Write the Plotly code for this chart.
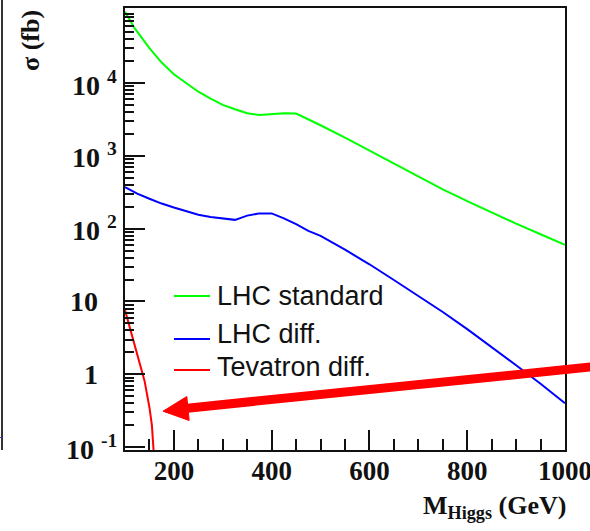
import math
import plotly.graph_objects as go

# Higgs mass grid (GeV) and cross sections (fb)
mass_lhc = [100, 120, 150, 175, 200, 225, 250, 275, 300, 325, 350, 375, 400,
            425, 450, 475, 500, 550, 600, 650, 700, 750, 800, 850, 900, 950, 1000]
sigma_lhc_standard = [95500, 56200, 30200, 19100, 13200, 10000, 7590, 6100, 5010,
                      4370, 3850, 3630, 3760, 3850, 3800, 3200, 2630, 1780, 1190,
                      782, 520, 346, 238, 166, 117, 83.8, 59.7]

mass_lhc_diff = [100, 125, 150, 175, 200, 225, 250, 275, 300, 325, 340, 350, 375,
                 400, 425, 450, 475, 500, 550, 600, 650, 700, 750, 800, 850, 900,
                 950, 1000]
sigma_lhc_diff = [371, 302, 257, 221, 195, 174, 155, 145, 138, 132, 143, 151, 162,
                  162, 138, 115, 93.3, 79.4, 51.3, 32.4, 19.7, 11.9, 7.16, 4.17,
                  2.37, 1.33, 0.74, 0.40]

mass_tev = [100, 110, 120, 130, 140, 150, 155, 160]
sigma_tev_diff = [7.6, 4.4, 2.5, 1.45, 0.81, 0.35, 0.2, 0.063]

series_names = ["LHC standard", "LHC diff.", "Tevatron diff."]
series_colors = ["#00ff00", "#0000ff", "#ff0000"]

x_ticks = [200, 400, 600, 800, 1000]
x_minor = [150, 250, 300, 350, 450, 500, 550, 650, 700, 750, 850, 900, 950]
y_ticks = [0.1, 1, 10, 100, 1000, 10000]
y_tick_text = ["10 <sup>-1</sup>", "1", "10", "10 <sup>2</sup>", "10 <sup>3</sup>",
               "10 <sup>4</sup>"]
y_minor = [m * 10 ** e for e in range(-1, 5) for m in range(2, 10)]

W, H = 590, 531
L, R, T, B = 125, 25, 8, 81
PW, PH = W - L - R, H - T - B


def px(x):
    return (x - L) / PW


def py(y):
    return (H - B - y) / PH


SERIF = "Liberation Serif"
INK = "#111"

fig = go.Figure()
for xs, ys, c in [(mass_lhc, sigma_lhc_standard, series_colors[0]),
                  (mass_lhc_diff, sigma_lhc_diff, series_colors[1]),
                  (mass_tev, sigma_tev_diff, series_colors[2])]:
    fig.add_trace(go.Scatter(x=xs, y=ys, mode="lines",
                             line=dict(color=c, width=2), showlegend=False,
                             hoverinfo="skip"))

fig.update_layout(
    width=W, height=H,
    margin=dict(l=L, r=R, t=T, b=B, autoexpand=False),
    paper_bgcolor="white", plot_bgcolor="white",
    showlegend=False,
    xaxis=dict(
        range=[100, 1000], showgrid=False, zeroline=False, automargin=False,
        showline=True, mirror=True, linecolor=INK, linewidth=2,
        tickmode="array", tickvals=x_ticks, ticks="inside", ticklen=20,
        tickwidth=2, tickcolor=INK,
        tickfont=dict(family=SERIF, size=27, color=INK, weight="bold"),
        ticklabelstandoff=-4, ticklabeloverflow="allow",
        minor=dict(tickmode="array", tickvals=x_minor, ticks="inside",
                   ticklen=11, tickwidth=2, tickcolor=INK, showgrid=False),
    ),
    yaxis=dict(
        type="log", range=[-1.04, 5.03], showgrid=False, zeroline=False,
        automargin=False,
        showline=True, mirror=True, linecolor=INK, linewidth=2,
        tickmode="array", tickvals=y_ticks, ticks="inside", ticklen=20,
        tickwidth=2, tickcolor=INK, showticklabels=False,
        minor=dict(tickmode="array", tickvals=y_minor, ticks="inside",
                   ticklen=9, tickwidth=2, tickcolor=INK, showgrid=False),
    ),
)

annotations = []
# y tick labels: powers aligned on the exponent, plain numbers on the mantissa
for v, t in zip(y_ticks, y_tick_text):
    has_exp = "<sup>" in t
    annotations.append(dict(
        x=px(119 if has_exp else 100), xref="paper", y=math.log10(v),
        yref="y", text=t, showarrow=False, xanchor="right", yanchor="middle",
        font=dict(family=SERIF, size=28, color=INK, weight="bold")))

# axis titles
annotations.append(dict(
    x=px(568), y=py(507), xref="paper", yref="paper",
    text="M<sub>Higgs</sub> (GeV)", showarrow=False, xanchor="right",
    yanchor="middle", font=dict(family=SERIF, size=26, color=INK, weight="bold")))
annotations.append(dict(
    x=px(31), y=py(41), xref="paper", yref="paper", text="σ (fb)",
    textangle=-90, showarrow=False, xanchor="center", yanchor="middle",
    font=dict(family=SERIF, size=26, color=INK, weight="bold")))

# legend
legend_line_y = [296, 339, 370]
legend_text_y = [296, 334, 367]
shapes = []
for name, c, ly, ty in zip(series_names, series_colors, legend_line_y, legend_text_y):
    shapes.append(dict(type="line", xref="paper", yref="paper",
                       x0=px(174), x1=px(210), y0=py(ly), y1=py(ly),
                       line=dict(color=c, width=2)))
    annotations.append(dict(
        x=px(215), y=py(ty), xref="paper", yref="paper", text=name,
        showarrow=False, xanchor="left", yanchor="middle",
        font=dict(family="Liberation Sans", size=27, color=INK)))

# red pointer towards the Tevatron curve
shapes.append(dict(type="line", xref="paper", yref="paper",
                   x0=px(600), y0=py(366), x1=px(185), y1=py(408.4),
                   line=dict(color="#ff0000", width=9)))
head = [(163, 411.2), (189.2, 420.5), (186.8, 396.5)]
path = "M " + " L ".join(f"{px(a):.5f},{py(b):.5f}" for a, b in head) + " Z"
shapes.append(dict(type="path", xref="paper", yref="paper", path=path,
                   fillcolor="#ff0000", line=dict(color="#ff0000", width=1)))

# frame edge of the neighbouring panel
shapes.append(dict(type="line", xref="paper", yref="paper",
                   x0=px(2), x1=px(2), y0=py(0), y1=py(450),
                   line=dict(color="#333", width=2)))
shapes.append(dict(type="line", xref="paper", yref="paper",
                   x0=px(0), x1=px(1.5), y0=py(437.5), y1=py(437.5),
                   line=dict(color="#4444ff", width=1)))

fig.update_layout(annotations=annotations, shapes=shapes)
fig.write_html("out.html")
